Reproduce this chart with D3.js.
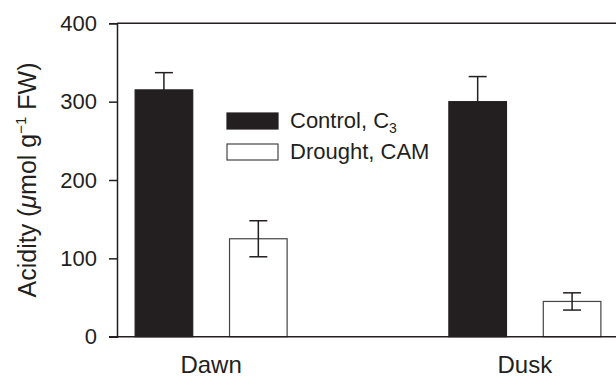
<!DOCTYPE html>
<html>
<head>
<meta charset="utf-8">
<script src="https://cdn.jsdelivr.net/npm/d3@7"></script>
<style>
  html, body { margin: 0; padding: 0; background: #fff; }
  svg { display: block; font-family: "Liberation Sans", Arial, Helvetica, sans-serif; }
</style>
</head>
<body>
<div id="chart"></div>
<script>
const categories = ["Dawn", "Dusk"]
const seriesNames = ["Control", "Drought"]
const controlValues = [315, 300]
const controlErrors = [22, 32]
const droughtValues = [125, 45]
const droughtErrors = [23, 11]
const yTicks = [0, 100, 200, 300, 400]

const width = 616
const height = 377
const ink = "#231f20"

const rows = categories.map((c, i) => ({
  category: c,
  bars: [
    { key: "Control", value: controlValues[i], err: controlErrors[i] },
    { key: "Drought", value: droughtValues[i], err: droughtErrors[i] }
  ]
}))

const svg = d3.select("#chart").append("svg")
  .attr("width", width)
  .attr("height", height)

const x = d3.scalePoint().domain(categories).range([117, 619]).padding(0.3)
const xSub = d3.scaleBand().domain(seriesNames).range([-76, 76]).paddingInner(0.39)
const y = d3.scaleLinear().domain([0, 400]).range([336.7, 23.3])

const fills = { Control: ink, Drought: "#fff" }

// frame: top line and bottom axis run off the right edge
svg.append("line")
  .attr("x1", 117).attr("x2", width + 5)
  .attr("y1", y(400)).attr("y2", y(400))
  .attr("stroke", ink).attr("stroke-width", 1.5)

// bars
const groups = svg.append("g").selectAll("g")
  .data(rows).join("g")
  .attr("transform", d => `translate(${x(d.category)},0)`)

groups.selectAll("rect")
  .data(d => d.bars).join("rect")
  .attr("x", d => xSub(d.key))
  .attr("y", d => y(d.value))
  .attr("width", xSub.bandwidth())
  .attr("height", d => y(0) - y(d.value))
  .attr("fill", d => fills[d.key])
  .attr("stroke", d => d.key === "Drought" ? "#444" : ink)
  .attr("stroke-width", 1.2)

// error bars
const eb = groups.selectAll("g.err")
  .data(d => d.bars).join("g")
  .attr("class", "err")
  .attr("transform", d => `translate(${xSub(d.key) + xSub.bandwidth() / 2},0)`)

eb.append("line")
  .attr("y1", d => y(d.value + d.err)).attr("y2", d => y(d.value - d.err))
  .attr("stroke", ink).attr("stroke-width", 1.5)
eb.append("line")
  .attr("x1", -9).attr("x2", 9)
  .attr("y1", d => y(d.value + d.err)).attr("y2", d => y(d.value + d.err))
  .attr("stroke", ink).attr("stroke-width", 1.5)
eb.append("line")
  .attr("x1", -9).attr("x2", 9)
  .attr("y1", d => y(d.value - d.err)).attr("y2", d => y(d.value - d.err))
  .attr("stroke", ink).attr("stroke-width", 1.5)

// y axis
svg.append("g")
  .attr("transform", "translate(117,0)")
  .call(d3.axisLeft(y).tickValues(yTicks).tickSize(8).tickPadding(12))
  .call(g => g.select(".domain").attr("stroke", ink).attr("stroke-width", 1.5))
  .call(g => g.selectAll(".tick line").attr("stroke", ink).attr("stroke-width", 1.5))
  .call(g => g.selectAll(".tick text")
    .attr("font-size", 22).attr("fill", ink)
    .attr("font-family", "'Liberation Sans', Arial, sans-serif"))

// x axis line
svg.append("line")
  .attr("x1", 109).attr("x2", width + 5)
  .attr("y1", y(0)).attr("y2", y(0))
  .attr("stroke", ink).attr("stroke-width", 1.5)

// category labels
svg.append("g").selectAll("text")
  .data(categories).join("text")
  .attr("x", d => x(d))
  .attr("y", 373)
  .attr("text-anchor", "middle")
  .attr("font-size", 24)
  .attr("fill", ink)
  .text(d => d)

// y title
const title = svg.append("text")
  .attr("transform", "translate(36,180) rotate(-90)")
  .attr("text-anchor", "middle")
  .attr("font-size", 25)
  .attr("fill", ink)
title.append("tspan").text("Acidity (")
title.append("tspan").attr("font-style", "italic").text("μ")
title.append("tspan").text("mol g")
title.append("tspan").attr("font-size", 15).attr("dy", -10).text("−1")
title.append("tspan").attr("dy", 10).text(" FW)")

// legend
const legend = svg.append("g")
const legendItems = [
  { key: "Control", label: "Control, C", sub: "3", y: 113 },
  { key: "Drought", label: "Drought, CAM", sub: "", y: 144 }
]
legend.selectAll("rect")
  .data(legendItems).join("rect")
  .attr("x", 227).attr("y", d => d.y)
  .attr("width", 51).attr("height", 16)
  .attr("fill", d => fills[d.key])
  .attr("stroke", d => d.key === "Drought" ? "#444" : ink)
  .attr("stroke-width", 1.2)
const lt = legend.selectAll("text")
  .data(legendItems).join("text")
  .attr("x", 290).attr("y", d => d.y + 15)
  .attr("font-size", 22)
  .attr("fill", ink)
lt.append("tspan").text(d => d.label)
lt.filter(d => d.sub).append("tspan")
  .attr("font-size", 14).attr("dy", 5).text(d => d.sub)
</script>
</body>
</html>
